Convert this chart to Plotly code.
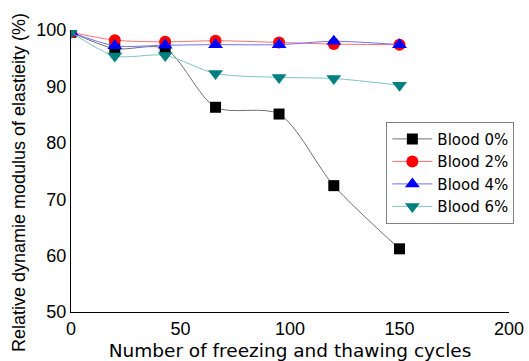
import plotly.graph_objects as go

# Freeze-thaw cycles and relative dynamic modulus (%) per blood dosage
cycles = [0, 20, 43, 66, 95, 120, 150]
blood_0 = [99.6, 96.7, 96.7, 86.3, 85.1, 72.4, 61.2]
blood_2 = [99.6, 98.2, 97.9, 98.1, 97.8, 97.5, 97.4]
blood_4 = [99.6, 97.2, 97.3, 97.4, 97.4, 98.0, 97.4]
blood_6 = [99.6, 95.4, 95.5, 92.3, 91.6, 91.4, 90.2]

series = [
    ("Blood 0%", blood_0, "#707070", "black", "square", 11),
    ("Blood 2%", blood_2, "#ff7070", "red", "circle", 12),
    ("Blood 4%", blood_4, "#7070ff", "blue", "triangle-up", 13),
    ("Blood 6%", blood_6, "#7fc4c4", "#008080", "triangle-down", 13),
]

fig = go.Figure()
for name, vals, lc, mc, sym, sz in series:
    fig.add_trace(go.Scatter(
        x=cycles, y=vals, name=name, mode="lines+markers",
        line=dict(color=lc, width=1, shape="spline", smoothing=0.8),
        marker=dict(color=mc, symbol=sym, size=sz, line=dict(width=0)),
    ))

tick_font = "Liberation Sans, Arial, sans-serif"
text_font = "DejaVu Sans, Verdana, sans-serif"

# Vertical axis title placed as a rotated annotation left of the tick labels
fig.add_annotation(
    text="Relative dynamie modulus of elastieity (%)",
    xref="paper", yref="paper", x=-0.117, y=0.46,
    xanchor="center", yanchor="middle", textangle=-90,
    showarrow=False, font=dict(size=18, family=tick_font, color="black"),
)

fig.update_layout(
    width=529, height=361,
    margin=dict(l=71, r=20, t=30, b=49),
    paper_bgcolor="white", plot_bgcolor="white",
    font=dict(family=tick_font, color="black"),
    showlegend=True,
    legend=dict(
        x=0.72, y=0.675, xanchor="left", yanchor="top",
        bordercolor="#808080", borderwidth=1, bgcolor="white",
        font=dict(size=15, family=text_font), tracegroupgap=0,
        itemwidth=40,
    ),
    xaxis=dict(
        range=[0, 200], tickvals=[0, 50, 100, 150, 200],
        showgrid=False, zeroline=False, showline=True,
        linecolor="black", linewidth=1, ticks="", automargin=False,
        tickfont=dict(size=18),
        title=dict(text="Number of freezing and thawing cycles",
                   font=dict(size=18.5, family=text_font), standoff=6),
    ),
    yaxis=dict(
        range=[50, 100], tickvals=[50, 60, 70, 80, 90, 100],
        showgrid=False, zeroline=False, showline=True,
        linecolor="black", linewidth=1, ticks="", automargin=False,
        tickfont=dict(size=18),
    ),
)

fig.write_html("out.html")
